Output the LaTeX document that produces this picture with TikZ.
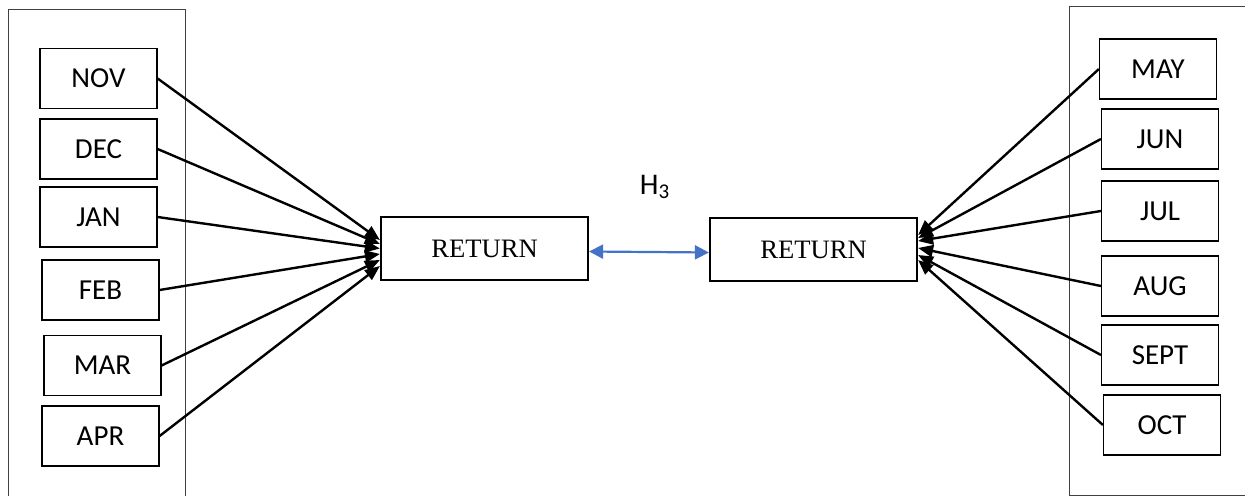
\documentclass[tikz,border=0pt]{standalone}
\usepackage{fontspec}
\setmainfont{Carlito}
\newfontfamily\retfont{Liberation Serif}
\usetikzlibrary{arrows.meta}
\definecolor{arrblue}{RGB}{68,114,196}
\tikzset{
  month/.style={draw, line width=0.6pt, minimum width=58.5pt, minimum height=30pt,
    inner sep=0pt, font=\fontsize{14.5}{17}\selectfont},
  ret/.style={draw, line width=1.1pt, minimum width=103.5pt, minimum height=31.5pt,
    inner sep=0pt, font=\retfont\fontsize{13.3}{16}\selectfont},
  arr/.style={line width=1.2pt, -{Triangle[length=7.5pt,width=6pt]}},
  panel/.style={line width=0.5pt, draw=black!75}
}
\begin{document}
\begin{tikzpicture}[x=0.5pt,y=-0.5pt]
  \useasboundingbox (0,0) rectangle (1245,496);
  % kader links en rechts
  \begin{scope}
    \clip (0,0) rectangle (1245,496);
    \draw[panel] (8,500) -- (8,10) -- (185,10) -- (185,500);
    \draw[panel] (1250,7) -- (1069,7) -- (1069,495) -- (1250,495);
  \end{scope}
  % maanden links
  \node[month] (nov) at (98.5,78.5) {NOV};
  \node[month] (dec) at (98.5,149) {DEC};
  \node[month] (jan) at (98.5,217) {JAN};
  \node[month] (feb) at (100.5,290) {FEB};
  \node[month] (mar) at (102.5,365.5) {MAR};
  \node[month] (apr) at (100.5,436) {APR};
  % maanden rechts
  \node[month] (may) at (1158,69) {MAY};
  \node[month] (jun) at (1160,139) {JUN};
  \node[month] (jul) at (1160,211) {JUL};
  \node[month] (aug) at (1160,286) {AUG};
  \node[month] (sept) at (1160,355) {SEPT};
  \node[month] (oct) at (1162,425) {OCT};
  % rendement
  \node[ret] (retL) at (484.5,248.5) {RETURN};
  \node[ret] (retR) at (813.5,249.5) {RETURN};
  \node (h3) at (655,187) {\fontsize{15}{18}\selectfont H\textsubscript{3}};
  \draw[arr] (nov.east) -- ([yshift=4.25pt]retL.west);
  \draw[arr] (dec.east) -- ([yshift=2.25pt]retL.west);
  \draw[arr] (jan.east) -- (retL.west);
  \draw[arr] (feb.east) -- ([yshift=-2.75pt]retL.west);
  \draw[arr] (mar.east) -- ([yshift=-5.75pt]retL.west);
  \draw[arr] (apr.east) -- ([yshift=-8.75pt]retL.west);
  \draw[arr] (may.west) -- ([yshift=7.25pt]retR.east);
  \draw[arr] (jun.west) -- ([yshift=5.75pt]retR.east);
  \draw[arr] (jul.west) -- ([yshift=4.25pt]retR.east);
  \draw[arr] (aug.west) -- ([yshift=0.75pt]retR.east);
  \draw[arr] (sept.west) -- ([yshift=-2.75pt]retR.east);
  \draw[arr] (oct.west) -- ([yshift=-5.25pt]retR.east);
  \draw[arrblue, line width=1.1pt, {Triangle[length=7pt,width=7pt]}-{Triangle[length=7pt,width=7pt]}]
    ([yshift=-1.5pt]retL.east) -- ([yshift=-1.5pt]retR.west);
\end{tikzpicture}
\end{document}
